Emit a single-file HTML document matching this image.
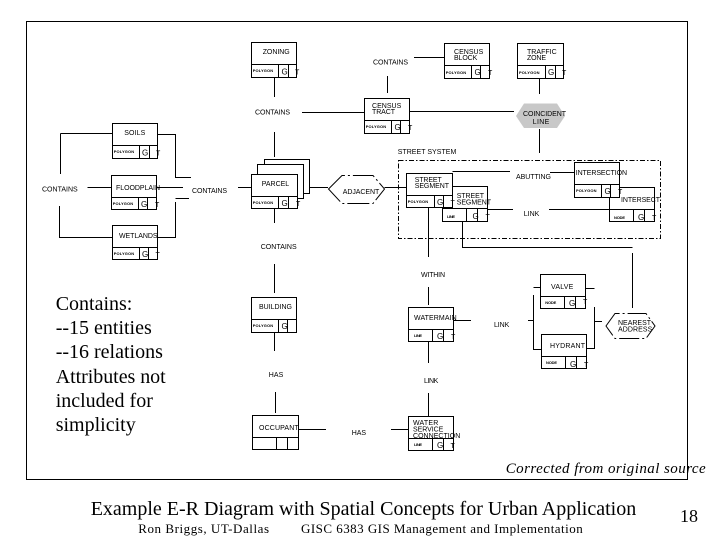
<!DOCTYPE html>
<html><head><meta charset="utf-8"><style>
html,body{margin:0;padding:0;background:#fff;width:720px;height:540px;overflow:hidden}
svg{display:block}
text{fill:#000;font-family:"Liberation Sans",sans-serif;font-size:7px}
.s{font-family:"Liberation Serif",serif}
.p{font-size:4px;font-weight:bold}
.c{font-size:8px}
.l,rect,polygon{stroke:#000;stroke-width:1;fill:none}
rect.w{fill:#fff}
</style></head><body>
<svg width="720" height="540" viewBox="0 0 720 540" xmlns="http://www.w3.org/2000/svg">
<rect x="26.5" y="21.5" width="661" height="458"/>
<rect x="398.5" y="160.5" width="262" height="78" style="stroke-dasharray:5 2 1.5 2"/>
<path class="l" d="M274.5 78V97M274.5 132V157M302 112.500H364.500M414 57.500H444.500M387.500 76V93M410 111.500H514M539.500 78V94M539.500 129V153M452.500 171.500H510M550 172.500H574.500M487.500 209.500H513M549 209.500H609.500M428.500 207V257M462.500 222V248M462.500 247.500H632.500M632.500 253V308M274.500 209V223M274.500 264V293M274.500 332V351M275.500 392V413M298.500 429.500H326M391 429.500H408.500M428.500 287V305M428.500 341V363M428.500 393V416M453.500 320.500H471M528 320.500H533.500M533.500 295V350M533.500 287.500H540.500M533.500 349.500H541.500M585.500 288.500H594.500M594.500 307V349M586.500 348.500H594.500M594.500 321.500H602M60.500 133.500H112.500M60.500 133.500V174M87.500 187.500H111.500M59.500 206V237.500H112.500M157.500 134.500H175.500V177.500H191M156.500 187.500H183M175.500 198.500H189M175.500 202V238M157.500 237.500H175.500M238 187.500H251.500M309.500 187.500H328M384.500 187.500H406.500"/>
<!-- parcel stack -->
<rect class="w" x="264.500" y="159.500" width="45" height="34"/>
<rect class="w" x="257.500" y="164.500" width="46" height="34"/>
<!-- boxes -->
<path class="l" d="M251.500 42.500H296.500V77.500H251.500ZM251.500 64.500H296.500M278.500 64.500V77.500M288.500 64.500V77.500"/>
<path class="l" d="M112.500 123.500H157.500V158.500H112.500ZM112.500 145.500H157.500M139.500 145.500V158.500M149.500 145.500V158.500"/>
<path class="l" d="M111.500 175.500H156.500V209.500H111.500ZM111.500 197.500H156.500M138.500 197.500V209.500M147.500 197.500V209.500"/>
<path class="l" d="M112.500 225.500H157.500V259.500H112.500ZM112.500 247.500H157.500M139.500 247.500V259.500M148.500 247.500V259.500"/>
<rect class="w" x="251.500" y="174.500" width="46" height="34"/>
<path class="l" d="M251.500 196.500H297.500M278.500 196.500V208.500M288.500 196.500V208.500"/>
<path class="l" d="M444.500 43.500H489.500V78.500H444.500ZM444.500 65.500H489.500M471.500 65.500V78.500M480.500 65.500V78.500"/>
<path class="l" d="M517.500 43.500H563.500V78.500H517.500ZM517.500 65.500H563.500M545.500 65.500V78.500M555.500 65.500V78.500"/>
<rect class="w" x="364.500" y="98.500" width="45" height="35"/>
<path class="l" d="M364.500 120.500H409.500M391.500 120.500V133.500M400.500 120.500V133.500"/>
<polygon points="516,116 524,103.500 557,103.500 565,116 557,128 524,128" style="fill:#c8c8c8;stroke:none"/>
<polygon points="328.500,189 342,175.500 373,175.500 384.500,189 373,203.500 342,203.500" style="fill:#fff;stroke-dasharray:22 3 2 3"/>
<rect class="w" x="442.500" y="186.500" width="45" height="35"/>
<path class="l" d="M442.500 208.500H487.500M466.500 208.500V221.500M477.500 208.500V221.500"/>
<rect class="w" x="406.500" y="173.500" width="46" height="34"/>
<path class="l" d="M406.500 195.500H452.500M434.500 195.500V207.500M443.500 195.500V207.500"/>
<rect class="w" x="609.500" y="187.500" width="45" height="34"/>
<path class="l" d="M609.500 209.500H654.500M633.500 209.500V221.500M644.500 209.500V221.500"/>
<rect class="w" x="574.500" y="162.500" width="45" height="35"/>
<path class="l" d="M574.500 184.500H619.500M601.500 184.500V197.500M610.500 184.500V197.500"/>
<path class="l" d="M251.500 297.500H296.500V332.500H251.500ZM251.500 319.500H296.500M278.500 319.500V332.500M287.500 319.500V332.500"/>
<path class="l" d="M252.500 415.500H298.500V449.500H252.500ZM252.500 437.500H298.500M276.500 437.500V449.500M287.500 437.500V449.500"/>
<path class="l" d="M408.500 307.500H453.500V341.500H408.500ZM408.500 329.500H453.500M432.500 329.500V341.500M443.500 329.500V341.500"/>
<path class="l" d="M408.500 416.500H453.500V450.500H408.500ZM408.500 438.500H453.500M432.500 438.500V450.500M443.500 438.500V450.500"/>
<path class="l" d="M540.500 274.500H585.500V308.500H540.500ZM540.500 296.500H585.500M564.500 296.500V308.500M575.500 296.500V308.500"/>
<path class="l" d="M541.500 334.500H586.500V368.500H541.500ZM541.500 356.500H586.500M565.500 356.500V368.500M576.500 356.500V368.500"/>
<polygon points="606,326 615,313.500 646,313.500 655,326 646,338.500 615,338.500" style="stroke-dasharray:20 3 2 3"/>
<!-- labels -->
<text x="262.700" y="54" textLength="27">ZONING</text>
<text x="124.300" y="135" textLength="21">SOILS</text>
<text x="116" y="190" textLength="44">FLOODPLAIN</text>
<text x="119" y="238" textLength="38.500">WETLANDS</text>
<text x="261.700" y="186" textLength="27.500">PARCEL</text>
<text x="454" y="54" textLength="29.300">CENSUS</text><text x="454" y="60" textLength="23.300">BLOCK</text>
<text x="527" y="54" textLength="29.700">TRAFFIC</text><text x="527" y="60" textLength="19">ZONE</text>
<text x="372" y="108" textLength="29.300">CENSUS</text><text x="372" y="114" textLength="23">TRACT</text>
<text x="523" y="116" textLength="43">COINCIDENT</text><text x="532.700" y="124" textLength="16.600">LINE</text>
<text x="414.700" y="182" textLength="27">STREET</text><text x="414.700" y="188" textLength="34.300">SEGMENT</text>
<text x="456.700" y="198" textLength="27.300">STREET</text><text x="456.700" y="204.500" textLength="34.300">SEGMENT</text>
<text x="575.700" y="175" textLength="51.300">INTERSECTION</text>
<text x="621" y="202" textLength="39">INTERSECT</text>
<text x="516" y="179" textLength="35">ABUTTING</text>
<text x="523.700" y="216" textLength="15.600">LINK</text>
<text x="342.700" y="194" textLength="36.600">ADJACENT</text>
<text x="397.700" y="154" textLength="58.600">STREET SYSTEM</text>
<text x="255" y="114.500" textLength="35">CONTAINS</text>
<text x="373" y="64.500" textLength="35">CONTAINS</text>
<text x="42" y="191.700" textLength="35.700">CONTAINS</text>
<text x="192" y="193" textLength="35">CONTAINS</text>
<text x="260.700" y="249" textLength="36">CONTAINS</text>
<text x="421" y="277" textLength="24">WITHIN</text>
<text x="259" y="309" textLength="33">BUILDING</text>
<text x="414" y="320" textLength="42.700">WATERMAIN</text>
<text x="259" y="430" textLength="39.700">OCCUPANT</text>
<text x="413" y="425" textLength="25.300">WATER</text><text x="413" y="431.500" textLength="30.300">SERVICE</text><text x="413" y="438" textLength="47.300">CONNECTION</text>
<text x="551" y="289" textLength="22.300">VALVE</text>
<text x="550" y="348" textLength="35">HYDRANT</text>
<text x="618" y="325" textLength="33">NEAREST</text><text x="618" y="331.500" textLength="34.300">ADDRESS</text>
<text x="268.700" y="377" textLength="14.600">HAS</text>
<text x="351.700" y="435" textLength="14.300">HAS</text>
<text x="424" y="383" textLength="14.300">LINK</text>
<text x="494" y="327" textLength="15.300">LINK</text>
<!-- cell labels -->
<text class="p" x="252.700" y="72" textLength="20.500">POLYGON</text><text class="c" x="281.500" y="74.500">G</text><text x="295" y="74.500">T</text>
<text class="p" x="113.700" y="153" textLength="20.500">POLYGON</text><text class="c" x="142" y="155.500">G</text><text x="156" y="155.500">T</text>
<text class="p" x="112.700" y="205" textLength="20.500">POLYGON</text><text class="c" x="141" y="207">G</text><text x="155" y="207">T</text>
<text class="p" x="113.700" y="255" textLength="20.500">POLYGON</text><text class="c" x="142" y="257">G</text><text x="155.500" y="257">T</text>
<text class="p" x="252.700" y="204" textLength="20.500">POLYGON</text><text class="c" x="281.500" y="206">G</text><text x="296" y="206">T</text>
<text class="p" x="445.700" y="74" textLength="20.500">POLYGON</text><text class="c" x="474.500" y="75">G</text><text x="488" y="75">T</text>
<text class="p" x="519" y="74" textLength="20.500">POLYGON</text><text class="c" x="548" y="75">G</text><text x="562" y="75">T</text>
<text class="p" x="365.700" y="128" textLength="20.500">POLYGON</text><text class="c" x="394.500" y="130">G</text><text x="408" y="130">T</text>
<text class="p" x="407.700" y="203" textLength="20.500">POLYGON</text><text class="c" x="437" y="205">G</text><text x="450.500" y="205">T</text>
<text class="p" x="447" y="218" textLength="8">LINE</text><text class="c" x="472.500" y="219">G</text><text x="485.500" y="219">T</text>
<text class="p" x="576" y="192" textLength="20.500">POLYGON</text><text class="c" x="604.500" y="194">G</text><text x="618" y="194">T</text>
<text class="p" x="614" y="219" textLength="11">NODE</text><text class="c" x="638" y="220">G</text><text x="652" y="220">T</text>
<text class="p" x="252.700" y="327" textLength="20.500">POLYGON</text><text class="c" x="281.500" y="329">G</text>
<text class="p" x="414" y="337" textLength="8">LINE</text><text class="c" x="437" y="339">G</text><text x="451" y="339">T</text>
<text class="p" x="414" y="446" textLength="8">LINE</text><text class="c" x="437" y="448">G</text><text x="450.500" y="448">T</text>
<text class="p" x="545.300" y="304" textLength="11">NODE</text><text class="c" x="569" y="306">G</text><text x="583" y="304">T</text>
<text class="p" x="546" y="364" textLength="11">NODE</text><text class="c" x="570" y="367">G</text><text x="584" y="367">T</text>
<!-- serif text -->
<text class="s" x="55.700" y="310" style="font-size:20px">Contains:</text>
<text class="s" x="55.700" y="334" style="font-size:20px">--15 entities</text>
<text class="s" x="55.700" y="358" style="font-size:20px">--16 relations</text>
<text class="s" x="55.700" y="383" style="font-size:20px" textLength="110">Attributes not</text>
<text class="s" x="55.700" y="407" style="font-size:20px">included for</text>
<text class="s" x="55.700" y="431" style="font-size:20px">simplicity</text>
<text class="s" x="505.700" y="473" style="font-size:15px;font-style:italic" textLength="200">Corrected from original source</text>
<text class="s" x="90.700" y="515" style="font-size:20px" textLength="545.500">Example E-R Diagram with Spatial Concepts for Urban Application</text>
<text class="s" x="138.300" y="533" style="font-size:13px" textLength="130.700">Ron Briggs, UT-Dallas</text>
<text class="s" x="301" y="533" style="font-size:13px" textLength="281.700">GISC 6383 GIS Management and Implementation</text>
<text class="s" x="680" y="522" style="font-size:18px">18</text>
</svg>
</body></html>
